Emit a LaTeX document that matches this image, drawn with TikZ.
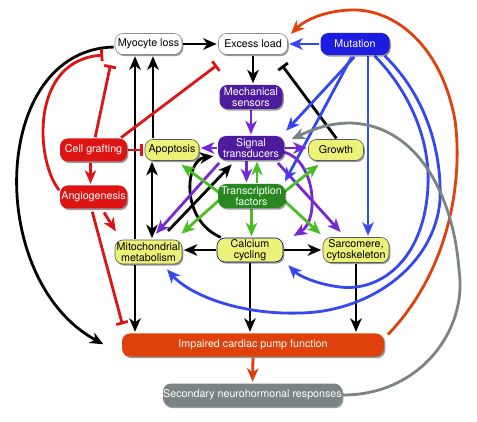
\documentclass[tikz,border=0pt]{standalone}
\usepackage{fontspec}
\setmainfont{TeX Gyre Heros}
\usetikzlibrary{arrows.meta,shadows,calc,backgrounds}
\definecolor{cblue}{RGB}{28,28,225}
\definecolor{lblue}{RGB}{52,72,240}
\definecolor{cpurple}{RGB}{78,26,158}
\definecolor{lpurple}{RGB}{118,40,215}
\definecolor{cgreen}{RGB}{40,135,30}
\definecolor{lgreen}{RGB}{72,190,35}
\definecolor{cyellow}{RGB}{236,242,120}
\definecolor{cred}{RGB}{222,20,20}
\definecolor{corange}{RGB}{224,64,12}
\definecolor{cgray}{RGB}{122,132,132}
\begin{document}
\begin{tikzpicture}[x=1pt,y=-1pt,
  nbox/.style={rounded corners=8pt, inner sep=0pt, align=center, minimum height=21pt,
    font=\fontsize{10.7}{10.7}\selectfont,
    drop shadow={shadow xshift=1.3pt, shadow yshift=-1.6pt, opacity=0.4, fill=black}},
  wbox/.style={nbox, fill=white, draw=black!45, line width=0.6pt},
  ybox/.style={nbox, fill=cyellow, draw=black!65, line width=0.6pt},
  bbox/.style={nbox, fill=cblue, text=white},
  pbox/.style={nbox, fill=cpurple, text=white},
  gbox/.style={nbox, fill=cgreen, text=white},
  rbox/.style={nbox, fill=cred, text=white},
  obox/.style={nbox, fill=corange, text=white},
  grbox/.style={nbox, fill=cgray, text=white},
  ln/.style={line width=2.8pt, shorten >=1.5pt, shorten <=1pt},
  ar/.style={ln, -{Stealth[length=13.5pt,width=11.5pt,inset=4pt]}},
  dar/.style={ln, {Stealth[length=13.5pt,width=11.5pt,inset=4pt]}-{Stealth[length=13.5pt,width=11.5pt,inset=4pt]}},
  tb/.style={ln, -{Bar[width=12pt]}}
]
\useasboundingbox (0,0) rectangle (477,422);
% nodes
\node[wbox, minimum width=67pt] (myo) at (148.5,44) {Myocyte loss};
\node[wbox, minimum width=69pt] (exc) at (253,44) {Excess load};
\node[bbox, minimum width=69pt, minimum height=22pt] (mut) at (355,44) {Mutation};
\node[pbox, minimum width=63pt, minimum height=24pt] (mech) at (251,97) {Mechanical\\sensors};
\node[pbox, minimum width=66pt, minimum height=24pt] (sig) at (251,148) {Signal\\transducers};
\node[ybox, minimum width=55pt] (grow) at (336,150) {Growth};
\node[ybox, minimum width=54pt] (apop) at (172,150) {Apoptosis};
\node[rbox, minimum width=67pt, minimum height=23pt] (graft) at (93.5,150) {Cell grafting};
\node[rbox, minimum width=67pt, minimum height=23pt] (angio) at (93.5,197) {Angiogenesis};
\node[gbox, minimum width=67pt, minimum height=24pt] (tf) at (251.5,196) {Transcription\\factors};
\node[ybox, minimum width=67pt, minimum height=24pt] (mito) at (148.5,252) {Mitochondrial\\metabolism};
\node[ybox, draw=blue!40!black, minimum width=66pt, minimum height=24pt] (cal) at (250,250) {Calcium\\cycling};
\node[ybox, minimum width=66pt, minimum height=25pt] (sarc) at (356,250) {Sarcomere,\\cytoskeleton};
\node[obox, minimum width=262pt, minimum height=23pt] (imp) at (253,345) {Impaired cardiac pump function};
\node[grbox, minimum width=179pt, minimum height=23pt] (sec) at (252.5,395) {Secondary neurohormonal responses};
% helper coordinates
\coordinate (a1) at ($(apop.north)+(-19,0)$);
\coordinate (a2) at ($(mito.north)+(-13.5,0)$);
\coordinate (a3) at ($(apop.south)+(-20,0)$);
\coordinate (a4) at ($(mito.south)+(-13.5,0)$);
\coordinate (r1) at ($(graft.south)+(-3,0)$);
\coordinate (b1) at ($(mut.south)+(13,0)$);
\coordinate (p1) at ($(sig.south)+(-4.5,0)$);
\coordinate (g1) at ($(tf.north)+(5.5,0)$);
\begin{pgfonlayer}{background}
\fill[white] (0,0) rectangle (477,422);
% black
\draw[ar] (myo.east) -- (exc.west);
\draw[ar] (exc.south) -- (exc.south |- mech.north);
\draw[tb] ($(grow.north)+(1,0)$) -- ($(exc.south east)+(-6.5,9.5)$);
\draw[ar] (a1) -- (a1 |- myo.south);
\draw[ar] (a2) -- (a2 |- myo.south);
\draw[dar] (a3) -- (a3 |- mito.north);
\draw[ar] ($(mito.north east)+(-15,-8)$) -- ($(sig.south west)+(15,3)$);
\draw[ar] ($(cal.north west)+(5,0)$) .. controls (180,220) and (185,160) .. ($(sig.west)+(-3,8)$);
\draw[ar] (cal.west) -- (cal.west -| mito.east);
\draw[ar] (cal.east) -- (cal.east -| sarc.west);
\draw[ar] (a4) -- (a4 |- imp.north);
\draw[ar] (cal.south) -- (cal.south |- imp.north);
\draw[ar] (sarc.south) -- (sarc.south |- imp.north);
\draw[ar] ($(myo.west)+(0,3)$) .. controls (-10,50) and (-15,280) .. ($(imp.west)+(-17,0)$);
% red
\draw[tb,cred] ($(graft.north)+(1.5,0)$) -- ($(myo.south west)+(-4,9)$);
\draw[tb,cred] ($(graft.north east)+(-7,0)$) -- ($(exc.south west)+(0,9.5)$);
\draw[tb,cred] (graft.east) -- (apop.west);
\draw[ar,cred] (r1) -- (r1 |- angio.north);
\draw[ar,cred] ($(angio.south)+(10,3)$) -- ($(mito.north west)+(2,-7)$);
\draw[tb,cred] ($(angio.south)+(-1.5,2)$) -- ($(imp.north west)+(1,-7.5)$);
\draw[tb,cred] ($(angio.west)+(0,-6)$) .. controls (35,160) and (30,60) .. ($(myo.west)+(-10,11)$);
% blue
\draw[ar,lblue] (mut.west) -- (exc.east);
\draw[ar,lblue] ($(mut.south)+(0,1)$) -- ($(sig.north east)+(1,-4)$);
\draw[ar,lblue] ($(mut.south)+(-3,1)$) -- ($(tf.north east)+(-1,-1)$);
\draw[ar,lblue] (b1) -- (b1 |- sarc.north);
\draw[ar,lblue] ($(mut.south)+(19,0)$) .. controls (410,92) and (430,140) .. (428,185)
   .. controls (425,260) and (380,292) .. (340,287)
   .. controls (315,284) and (298,275) .. ($(cal.south east)+(4,2)$);
\draw[ar,lblue] ($(mut.south)+(29,0)$) .. controls (425,95) and (442,150) .. (440,200)
   .. controls (435,265) and (370,312) .. (300,313)
   .. controls (240,315) and (190,295) .. ($(mito.south)+(17.5,4)$);
% purple
\draw[ar,lpurple] (mech.south) -- (sig.north);
\draw[ar,lpurple] (sig.west) -- (sig.west -| apop.east);
\draw[ar,lpurple] (sig.east) -- (sig.east -| grow.west);
\draw[ar,lpurple] (p1) -- (p1 |- tf.north);
\draw[ar,lpurple] ($(sig.south west)+(2,2)$) -- ($(mito.north)+(6.5,-5)$);
\draw[ar,lpurple] ($(sig.south east)+(-7,2)$) -- ($(sarc.north west)+(19,-4)$);
\draw[ar,lpurple] ($(sig.east)+(-1,4)$) .. controls (315,160) and (320,220) .. ($(cal.north east)+(9,-1)$);
% green
\draw[ar,lgreen] (g1) -- (g1 |- sig.south);
\draw[ar,lgreen] (tf.south) -- (tf.south |- cal.north);
\draw[ar,lgreen] ($(tf.west)+(6,0)$) -- ($(apop.south east)+(-19,3)$);
\draw[ar,lgreen] ($(tf.west)+(6,0)$) -- ($(mito.north east)+(-2,-5)$);
\draw[ar,lgreen] ($(tf.east)+(-6,0)$) -- ($(grow.south west)+(11.5,3)$);
\draw[ar,lgreen] ($(tf.east)+(-6,0)$) -- ($(sarc.north west)+(-1,-2)$);
% orange
\draw[ar,corange] (imp.south) -- (sec.north);
\draw[ar,corange] ($(imp.north east)+(3,2)$) .. controls (450,270) and (463,180) .. (455,120)
   .. controls (440,40) and (390,8) .. (350,10)
   .. controls (325,11) and (305,20) .. ($(exc.east)+(2,-9)$);
% gray
\draw[ar,cgray] (sec.east) .. controls (420,395) and (468,330) .. (459,270)
   .. controls (454,200) and (420,125) .. (350,123)
   .. controls (325,123) and (305,133) .. ($(sig.north east)+(6,4)$);
\end{pgfonlayer}
\end{tikzpicture}
\end{document}
